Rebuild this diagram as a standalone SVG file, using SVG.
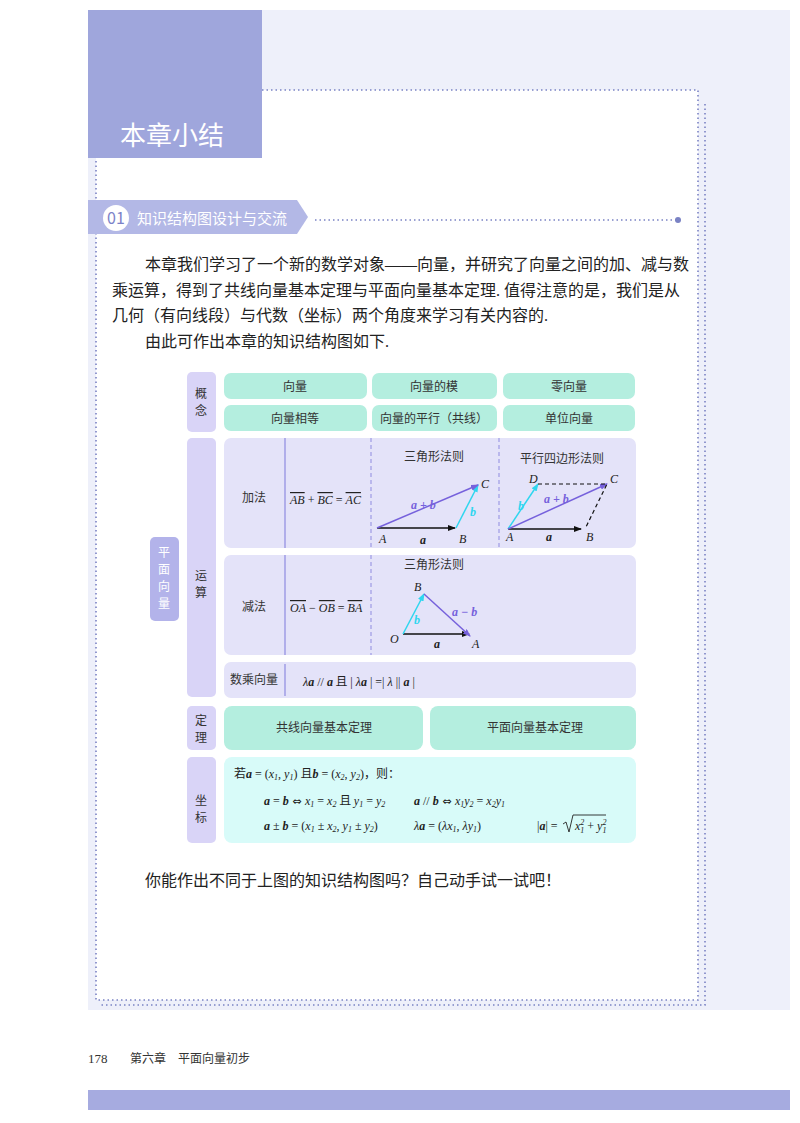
<svg xmlns="http://www.w3.org/2000/svg" width="800" height="1123" viewBox="0 0 800 1123">
<style>
.cn{font-family:"Noto Sans CJK SC","Noto Sans",sans-serif;}
.sf{font-family:"Liberation Serif","Noto Sans CJK SC",serif;}
.t{font-family:"Liberation Serif","Noto Sans CJK SC",serif;font-size:16px;fill:#222;}
.s{font-family:"Liberation Serif","Noto Sans CJK SC",serif;font-size:12px;fill:#333;}
.m{font-family:"Liberation Serif",serif;font-size:12px;font-style:italic;fill:#222;}
.b{font-weight:bold;}
.ov{text-decoration:overline;}
.dj{font-family:"DejaVu Sans",sans-serif;font-style:normal;font-size:11px;}
.teal{fill:#b4eedf;}
.lab{fill:#d9d4f7;}
.op{fill:#e4e3f9;}
.dot{fill:none;stroke:#7a82c4;stroke-width:1.6;stroke-dasharray:1.5 3;}
</style>
<defs>
<marker id="ak" markerWidth="8" markerHeight="6" refX="7" refY="3" orient="auto" markerUnits="userSpaceOnUse"><path d="M0,0 L8,3 L0,6 Z" fill="#111"/></marker>
<marker id="ac" markerWidth="8" markerHeight="6" refX="7" refY="3" orient="auto" markerUnits="userSpaceOnUse"><path d="M0,0 L8,3 L0,6 Z" fill="#2fd6ef"/></marker>
<marker id="ap" markerWidth="8" markerHeight="6" refX="7" refY="3" orient="auto" markerUnits="userSpaceOnUse"><path d="M0,0 L8,3 L0,6 Z" fill="#7661dc"/></marker>
</defs>
<rect width="800" height="1123" fill="#fff"/>
<rect x="88" y="10" width="702" height="1000" fill="#eef0fa"/>
<rect x="96" y="90" width="602" height="910" fill="#fff"/>
<path class="dot" d="M262,90 H698 V1000 H96 V160"/>
<path class="dot" d="M705,104 V1005 H100"/>
<g id="title"><rect x="88" y="10" width="174" height="148" fill="#9fa6dc"/>
<text x="120" y="145" class="cn" font-size="26" fill="#fff">本章小结</text></g>
<g id="section">
<polygon points="88,200 297,200 308,217 297,234 88,234" fill="#b3b8e6"/>
<circle cx="116" cy="218" r="13" fill="#fff"/>
<text x="116" y="224" class="cn" font-size="16" fill="#7b82c8" text-anchor="middle">01</text>
<text x="137" y="224" class="cn" font-size="15" fill="#fff">知识结构图设计与交流</text>
<path class="dot" d="M315,220 H677"/><circle cx="678" cy="220" r="3" fill="#7a82c4"/>
</g>
<g id="para">
<text x="145" y="270" class="t">本章我们学习了一个新的数学对象——向量，并研究了向量之间的加、减与数</text>
<text x="112" y="296" class="t">乘运算，得到了共线向量基本定理与平面向量基本定理. 值得注意的是，我们是从</text>
<text x="112" y="321" class="t">几何（有向线段）与代数（坐标）两个角度来学习有关内容的.</text>
<text x="145" y="347" class="t">由此可作出本章的知识结构图如下.</text>
</g>
<g id="pv"><rect x="150" y="537" width="29" height="84" rx="5" fill="#b3b3ea"/>
<text class="s" style="fill:#fff" text-anchor="middle"><tspan x="164" y="557">平</tspan><tspan x="164" y="574">面</tspan><tspan x="164" y="591">向</tspan><tspan x="164" y="608">量</tspan></text></g>
<g id="concept">
<rect x="187" y="372" width="29" height="60" rx="5" class="lab"/>
<text class="s" text-anchor="middle"><tspan x="201" y="398">概</tspan><tspan x="201" y="415">念</tspan></text>
<rect x="224" y="373" width="143" height="26" rx="7" class="teal"/><text x="295" y="391" class="s" text-anchor="middle">向量</text>
<rect x="372" y="373" width="125" height="26" rx="7" class="teal"/><text x="434" y="391" class="s" text-anchor="middle">向量的模</text>
<rect x="503" y="373" width="132" height="26" rx="7" class="teal"/><text x="569" y="391" class="s" text-anchor="middle">零向量</text>
<rect x="224" y="405" width="143" height="26" rx="7" class="teal"/><text x="295" y="423" class="s" text-anchor="middle">向量相等</text>
<rect x="372" y="405" width="125" height="26" rx="7" class="teal"/><text x="434" y="423" class="s" text-anchor="middle">向量的平行（共线）</text>
<rect x="503" y="405" width="132" height="26" rx="7" class="teal"/><text x="569" y="423" class="s" text-anchor="middle">单位向量</text>
</g>
<g id="ops">
<rect x="187" y="438" width="29" height="259" rx="5" class="lab"/>
<text class="s" text-anchor="middle"><tspan x="201" y="580">运</tspan><tspan x="201" y="597">算</tspan></text>
<rect x="224" y="438" width="412" height="110" rx="7" class="op"/>
<rect x="224" y="555" width="412" height="100" rx="7" class="op"/>
<rect x="224" y="662" width="412" height="36" rx="7" class="op"/>
<path d="M285,438 V548 M285,555 V655 M285,664 V696" stroke="#8f8be0" stroke-width="1.2"/>
<path d="M371,438 V548 M499,438 V548 M371,555 V655" stroke="#8f8be0" stroke-width="1" stroke-dasharray="4 3"/>
<text x="254" y="502" class="s" text-anchor="middle">加法</text>
<text x="254" y="611" class="s" text-anchor="middle">减法</text>
<text x="254" y="684" class="s" text-anchor="middle">数乘向量</text>
<text x="290" y="504" class="m"><tspan class="ov">AB</tspan><tspan font-style="normal"> + </tspan><tspan class="ov">BC</tspan><tspan font-style="normal"> = </tspan><tspan class="ov">AC</tspan></text>
<text x="290" y="612" class="m"><tspan class="ov">OA</tspan><tspan font-style="normal"> − </tspan><tspan class="ov">OB</tspan><tspan font-style="normal"> = </tspan><tspan class="ov">BA</tspan></text>
<text x="303" y="686" class="m">λ<tspan class="b">a</tspan><tspan font-style="normal"> // </tspan><tspan class="b">a</tspan><tspan font-style="normal" class="cn"> 且 </tspan><tspan font-style="normal">| </tspan>λ<tspan class="b">a</tspan><tspan font-style="normal"> | =| </tspan>λ<tspan font-style="normal"> || </tspan><tspan class="b">a</tspan><tspan font-style="normal"> |</tspan></text>
<text x="434" y="461" class="s" text-anchor="middle">三角形法则</text>
<text x="562" y="463" class="s" text-anchor="middle">平行四边形法则</text>
<text x="434" y="569" class="s" text-anchor="middle">三角形法则</text>
</g>
<g id="connectors">
<line x1="377" y1="528" x2="455" y2="528" stroke="#111" stroke-width="1.5" marker-end="url(#ak)"/>
<line x1="456" y1="528" x2="478" y2="485" stroke="#2fd6ef" stroke-width="1.5" marker-end="url(#ac)"/>
<line x1="377" y1="528" x2="478" y2="485" stroke="#7661dc" stroke-width="1.5" marker-end="url(#ap)"/>
<line x1="508" y1="529" x2="581" y2="529" stroke="#111" stroke-width="1.5" marker-end="url(#ak)"/>
<line x1="508" y1="529" x2="538" y2="484" stroke="#2fd6ef" stroke-width="1.5" marker-end="url(#ac)"/>
<line x1="508" y1="529" x2="607" y2="484" stroke="#7661dc" stroke-width="1.5" marker-end="url(#ap)"/>
<path d="M538,484 H607 L585,529" fill="none" stroke="#111" stroke-width="1.2" stroke-dasharray="4 3"/>
<line x1="403" y1="634" x2="469" y2="634" stroke="#111" stroke-width="1.5" marker-end="url(#ak)"/>
<line x1="403" y1="634" x2="424" y2="594" stroke="#2fd6ef" stroke-width="1.5" marker-end="url(#ac)"/>
<line x1="424" y1="594" x2="470" y2="636" stroke="#7661dc" stroke-width="1.5" marker-end="url(#ap)"/>
</g>
<g id="vlabels">
<text x="379" y="543" class="m">A</text><text x="459" y="543" class="m">B</text><text x="481" y="488" class="m">C</text>
<text x="420" y="544" class="m b">a</text><text x="411" y="509" class="m b" style="fill:#7661dc">a + b</text><text x="470" y="516" class="m b" style="fill:#2fd6ef">b</text>
<text x="506" y="541" class="m">A</text><text x="586" y="541" class="m">B</text><text x="529" y="483" class="m">D</text><text x="610" y="483" class="m">C</text>
<text x="546" y="541" class="m b">a</text><text x="544" y="503" class="m b" style="fill:#7661dc">a + b</text><text x="518" y="510" class="m b" style="fill:#2fd6ef">b</text>
<text x="390" y="643" class="m">O</text><text x="414" y="591" class="m">B</text><text x="472" y="648" class="m">A</text>
<text x="434" y="648" class="m b">a</text><text x="414" y="624" class="m b" style="fill:#2fd6ef">b</text><text x="452" y="616" class="m b" style="fill:#7661dc">a − b</text>
</g>
<g id="theorem">
<rect x="187" y="706" width="29" height="44" rx="5" class="lab"/>
<text class="s" text-anchor="middle"><tspan x="201" y="725">定</tspan><tspan x="201" y="742">理</tspan></text>
<rect x="224" y="706" width="199" height="44" rx="8" class="teal"/><text x="324" y="732" class="s" text-anchor="middle">共线向量基本定理</text>
<rect x="430" y="706" width="206" height="44" rx="8" class="teal"/><text x="535" y="732" class="s" text-anchor="middle">平面向量基本定理</text>
</g>
<g id="coord">
<rect x="187" y="757" width="29" height="86" rx="5" class="lab"/>
<text class="s" text-anchor="middle"><tspan x="201" y="805">坐</tspan><tspan x="201" y="822">标</tspan></text>
<rect x="224" y="757" width="412" height="86" rx="8" fill="#d8fbf9"/>
<text x="234" y="778" class="m"><tspan font-style="normal" class="cn">若</tspan><tspan class="b">a</tspan><tspan font-style="normal"> = (</tspan>x<tspan font-size="8" dy="2">1</tspan><tspan font-style="normal" dy="-2">, </tspan>y<tspan font-size="8" dy="2">1</tspan><tspan font-style="normal" dy="-2">) </tspan><tspan font-style="normal" class="cn">且</tspan><tspan class="b">b</tspan><tspan font-style="normal"> = (</tspan>x<tspan font-size="8" dy="2">2</tspan><tspan font-style="normal" dy="-2">, </tspan>y<tspan font-size="8" dy="2">2</tspan><tspan font-style="normal" dy="-2">)</tspan><tspan font-style="normal" class="cn">，则：</tspan></text>
<text x="264" y="805" class="m"><tspan class="b">a</tspan><tspan font-style="normal"> = </tspan><tspan class="b">b</tspan><tspan class="dj"> ⇔ </tspan>x<tspan font-size="8" dy="2">1</tspan><tspan font-style="normal" dy="-2"> = </tspan>x<tspan font-size="8" dy="2">2</tspan><tspan font-style="normal" class="cn" dy="-2"> 且 </tspan>y<tspan font-size="8" dy="2">1</tspan><tspan font-style="normal" dy="-2"> = </tspan>y<tspan font-size="8" dy="2">2</tspan></text>
<text x="414" y="805" class="m"><tspan class="b">a</tspan><tspan font-style="normal"> // </tspan><tspan class="b">b</tspan><tspan class="dj"> ⇔ </tspan>x<tspan font-size="8" dy="2">1</tspan><tspan dy="-2">y</tspan><tspan font-size="8" dy="2">2</tspan><tspan font-style="normal" dy="-2"> = </tspan>x<tspan font-size="8" dy="2">2</tspan><tspan dy="-2">y</tspan><tspan font-size="8" dy="2">1</tspan></text>
<text x="264" y="830" class="m"><tspan class="b">a</tspan><tspan font-style="normal"> ± </tspan><tspan class="b">b</tspan><tspan font-style="normal"> = (</tspan>x<tspan font-size="8" dy="2">1</tspan><tspan font-style="normal" dy="-2"> ± </tspan>x<tspan font-size="8" dy="2">2</tspan><tspan font-style="normal" dy="-2">,  </tspan>y<tspan font-size="8" dy="2">1</tspan><tspan font-style="normal" dy="-2"> ± </tspan>y<tspan font-size="8" dy="2">2</tspan><tspan font-style="normal" dy="-2">)</tspan></text>
<text x="414" y="830" class="m">λ<tspan class="b">a</tspan><tspan font-style="normal"> = (</tspan>λx<tspan font-size="8" dy="2">1</tspan><tspan font-style="normal" dy="-2">,  </tspan>λy<tspan font-size="8" dy="2">1</tspan><tspan font-style="normal" dy="-2">)</tspan></text>
<text x="537" y="830" class="m"><tspan font-style="normal">|</tspan><tspan class="b">a</tspan><tspan font-style="normal">| = </tspan></text>
<path d="M563,824 L566,822 L569,832 L573,815 H606" fill="none" stroke="#222" stroke-width="0.9"/>
<text x="575" y="830" class="m">x<tspan font-size="8" dy="-5">2</tspan><tspan font-size="8" dx="-4" dy="8">1</tspan><tspan font-style="normal" dy="-3"> + </tspan>y<tspan font-size="8" dy="-5">2</tspan><tspan font-size="8" dx="-4" dy="8">1</tspan></text>
</g>
<text x="145" y="886" class="t">你能作出不同于上图的知识结构图吗？自己动手试一试吧！</text>
<text x="88" y="1063" class="sf" font-size="13" fill="#333">178</text>
<text x="130" y="1063" class="sf" font-size="12" fill="#333">第六章　平面向量初步</text>
<rect x="88" y="1090" width="702" height="20" fill="#a6abe0"/>
</svg>
